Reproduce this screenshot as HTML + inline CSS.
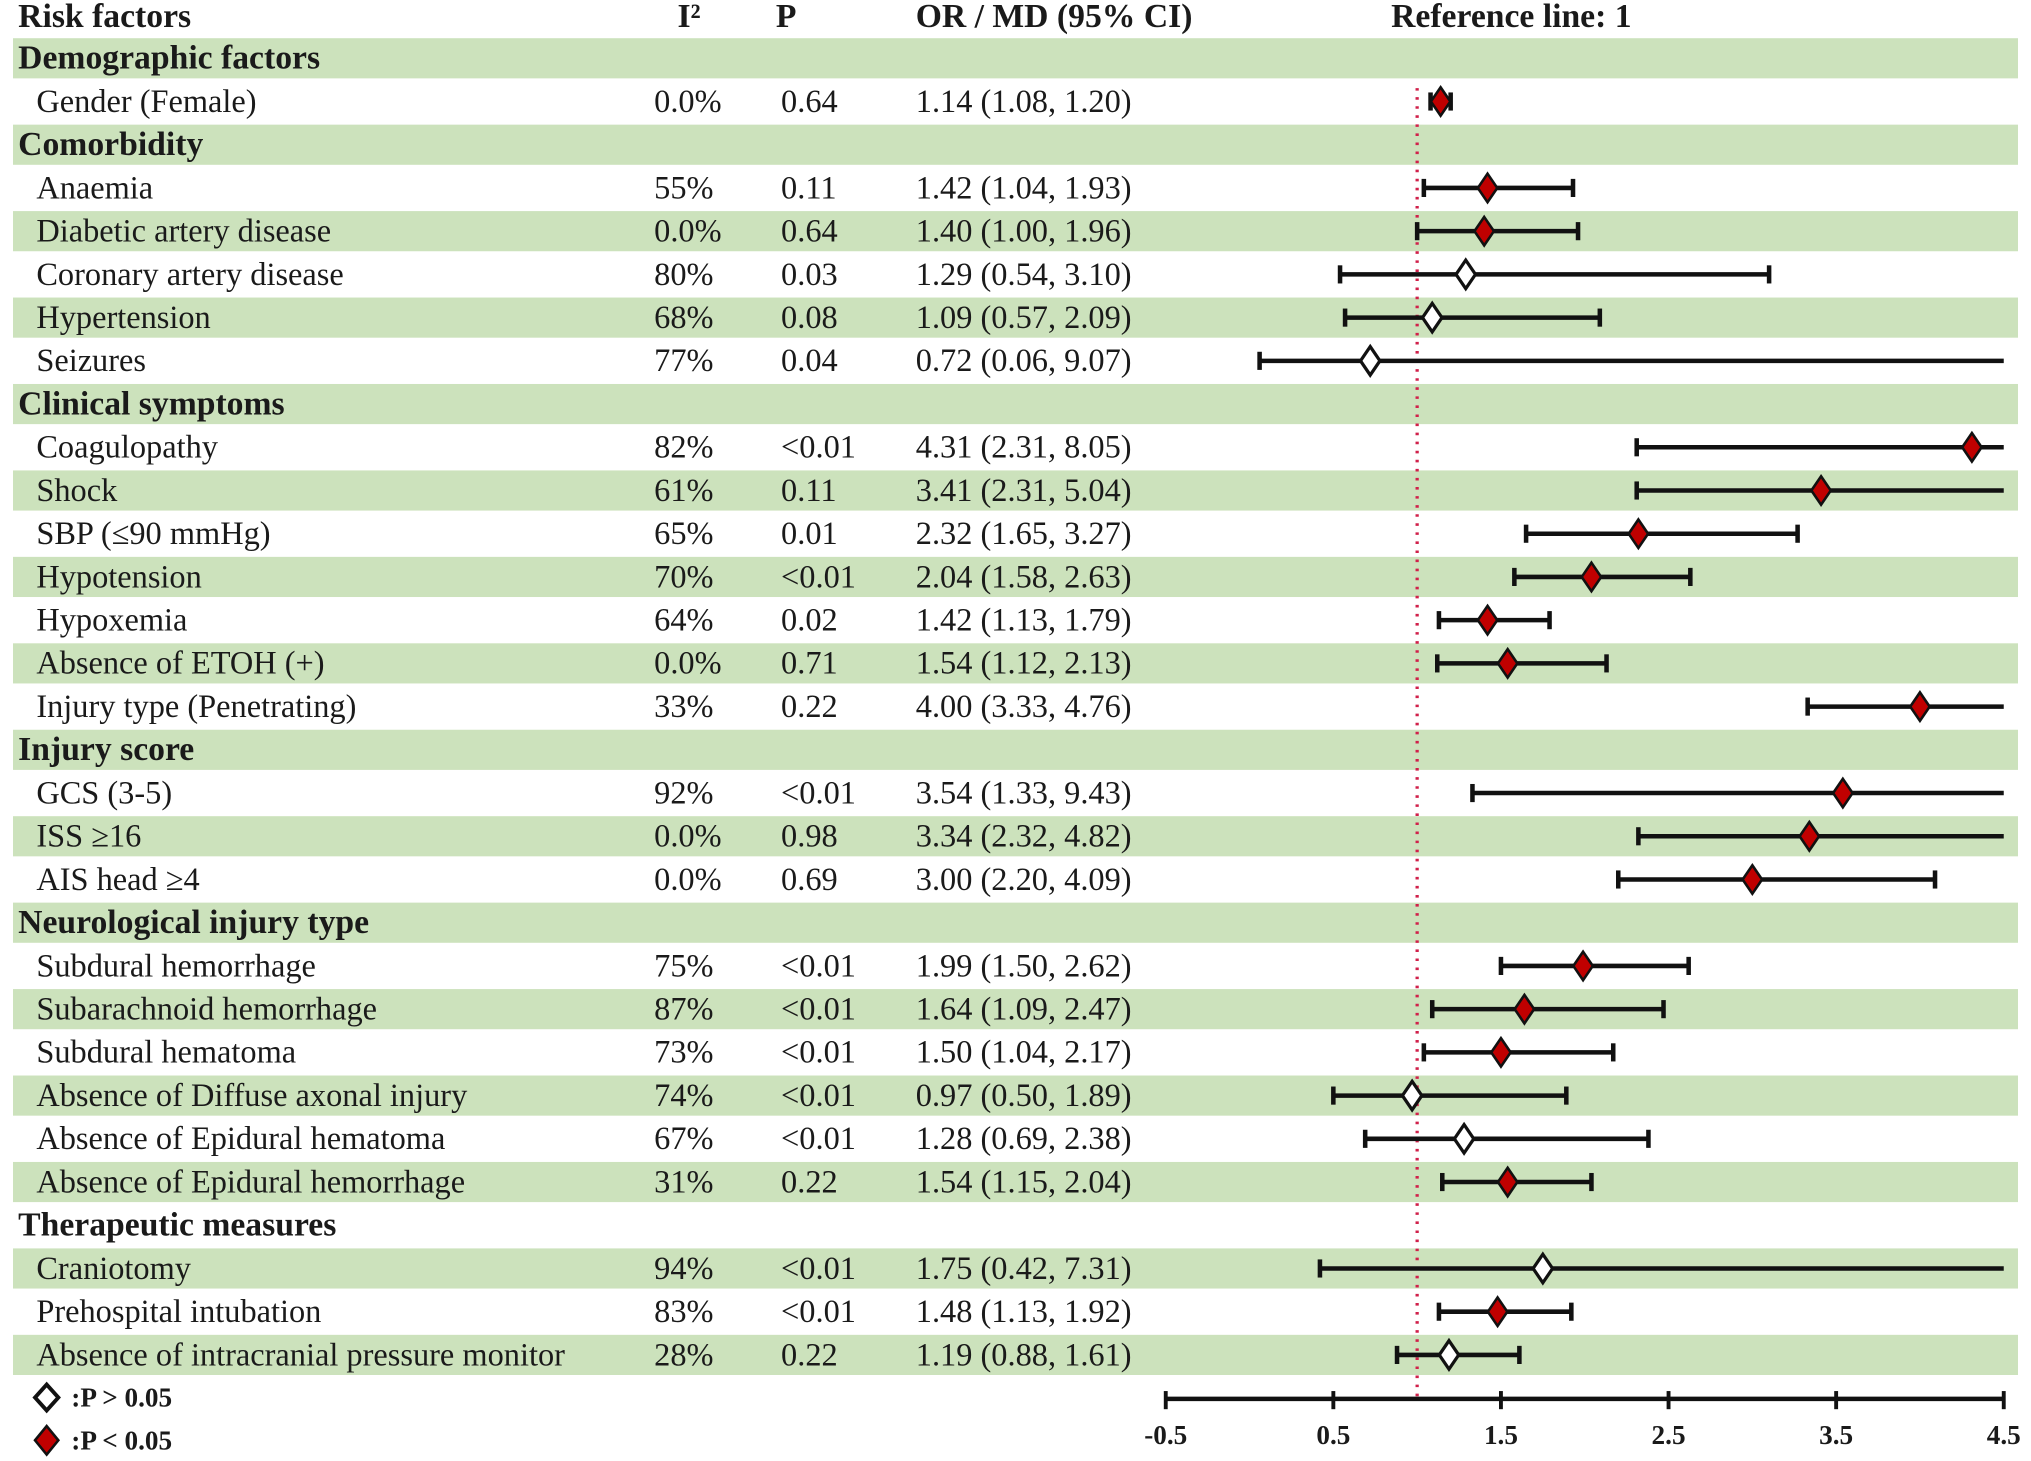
<!DOCTYPE html>
<html><head><meta charset="utf-8"><style>
html,body{margin:0;padding:0;background:#fff;}
svg{display:block;}
text{font-family:"Liberation Serif","DejaVu Serif",serif;font-size:25px;fill:#1a1a1a;}
.b{font-weight:bold;font-size:26px;}
</style></head><body>
<svg id="chart" width="2031" height="1461" viewBox="0 0 1568 1128" xmlns="http://www.w3.org/2000/svg">
<g id="bands"></g>
<text class="b" x="14" y="21">Risk factors</text>
<text class="b" x="523" y="21">I²</text>
<text class="b" x="599" y="21">P</text>
<text class="b" x="707" y="21">OR / MD (95% CI)</text>
<text class="b" x="1074" y="21">Reference line: 1</text>
<g id="texts"></g>
<g id="refline"></g>
<g id="marks"></g>
<g id="axis"></g>
<g>
<polygon points="36,1069 45,1079 36,1089 27,1079" fill="#fff" stroke="#111" stroke-width="3"/>
<text class="b" x="55" y="1086" style="font-size:21px">:P &gt; 0.05</text>
<polygon points="36,1101 45,1112 36,1123 27,1112" fill="#c00000" stroke="#111" stroke-width="2"/>
<text class="b" x="55" y="1119" style="font-size:21px">:P &lt; 0.05</text>
</g>
</svg>
<script>
const labels=["Demographic factors","Gender (Female)","Comorbidity","Anaemia","Diabetic artery disease","Coronary artery disease","Hypertension","Seizures","Clinical symptoms","Coagulopathy","Shock","SBP (≤90 mmHg)","Hypotension","Hypoxemia","Absence of ETOH (+)","Injury type (Penetrating)","Injury score","GCS (3-5)","ISS ≥16","AIS head ≥4","Neurological injury type","Subdural hemorrhage","Subarachnoid hemorrhage","Subdural hematoma","Absence of Diffuse axonal injury","Absence of Epidural hematoma","Absence of Epidural hemorrhage","Therapeutic measures","Craniotomy","Prehospital intubation","Absence of intracranial pressure monitor"];
const isHeader=[1,0,1,0,0,0,0,0,1,0,0,0,0,0,0,0,1,0,0,0,1,0,0,0,0,0,0,1,0,0,0];
const i2=["","0.0%","","55%","0.0%","80%","68%","77%","","82%","61%","65%","70%","64%","0.0%","33%","","92%","0.0%","0.0%","","75%","87%","73%","74%","67%","31%","","94%","83%","28%"];
const pv=["","0.64","","0.11","0.64","0.03","0.08","0.04","","<0.01","0.11","0.01","<0.01","0.02","0.71","0.22","","<0.01","0.98","0.69","","<0.01","<0.01","<0.01","<0.01","<0.01","0.22","","<0.01","<0.01","0.22"];
const est=[null,1.14,null,1.42,1.40,1.29,1.09,0.72,null,4.31,3.41,2.32,2.04,1.42,1.54,4.00,null,3.54,3.34,3.00,null,1.99,1.64,1.50,0.97,1.28,1.54,null,1.75,1.48,1.19];
const lo=[null,1.08,null,1.04,1.00,0.54,0.57,0.06,null,2.31,2.31,1.65,1.58,1.13,1.12,3.33,null,1.33,2.32,2.20,null,1.50,1.09,1.04,0.50,0.69,1.15,null,0.42,1.13,0.88];
const hi=[null,1.20,null,1.93,1.96,3.10,2.09,9.07,null,8.05,5.04,3.27,2.63,1.79,2.13,4.76,null,9.43,4.82,4.09,null,2.62,2.47,2.17,1.89,2.38,2.04,null,7.31,1.92,1.61];
const sig=[0,1,0,1,1,0,0,0,0,1,1,1,1,1,1,1,0,1,1,1,0,1,1,1,0,0,1,0,0,1,0];
const ticks=[-0.5,0.5,1.5,2.5,3.5,4.5];
const refValue=1;
const NS="http://www.w3.org/2000/svg";
const X0=-0.5,X1=4.5,PX0=900,PX1=1547;
function xs(v){return PX0+(Math.max(X0,Math.min(X1,v))-X0)/(X1-X0)*(PX1-PX0);}
function ys(i){return 45+i*33.37;}
function mk(tag,attrs,parent){const e=document.createElementNS(NS,tag);for(const k in attrs)e.setAttribute(k,attrs[k]);parent.appendChild(e);return e;}
const bands=document.getElementById('bands'),texts=document.getElementById('texts'),marks=document.getElementById('marks'),axis=document.getElementById('axis'),ref=document.getElementById('refline');
labels.forEach((lab,i)=>{
  const y=ys(i);
  if(i%2===0){const r=mk('rect',{x:10,y:y-15.5,width:1548,height:31,fill:'#cce2bc'},bands);
    
    }
  const t=mk('text',{x:isHeader[i]?14:28,y:y+8,class:isHeader[i]?'b':''},texts);t.textContent=lab;
  
  
  if(!isHeader[i]){
    const a=mk('text',{x:505,y:y+8},texts);a.textContent=i2[i];
    
    
    const b=mk('text',{x:603,y:y+8},texts);b.textContent=pv[i];
    
    
    const c=mk('text',{x:707,y:y+8},texts);c.textContent=est[i].toFixed(2)+' ('+lo[i].toFixed(2)+', '+hi[i].toFixed(2)+')';
    
    
    const g=mk('g',{},marks);
    
    
    const xl=xs(lo[i]),xh=xs(hi[i]),xe=xs(est[i]);
    mk('line',{x1:xl,x2:xh,y1:y,y2:y,stroke:'#111','stroke-width':3.5},g);
    if(lo[i]>=X0)mk('line',{x1:xl,x2:xl,y1:y-7,y2:y+7,stroke:'#111','stroke-width':3.5},g);
    if(hi[i]<=X1)mk('line',{x1:xh,x2:xh,y1:y-7,y2:y+7,stroke:'#111','stroke-width':3.5},g);
    mk('polygon',{points:`${xe},${y-11} ${xe+7.5},${y} ${xe},${y+11} ${xe-7.5},${y}`,fill:sig[i]?'#c00000':'#fff',stroke:'#111','stroke-width':sig[i]?2:2.5},g);
  }
});
const rl=mk('line',{x1:xs(refValue),x2:xs(refValue),y1:68,y2:1080,stroke:'#d0204a','stroke-width':2.5,'stroke-dasharray':'2 5'},ref);


const al=mk('line',{x1:PX0,x2:PX1,y1:1080,y2:1080,stroke:'#111','stroke-width':3.5},axis);


ticks.forEach(v=>{
  const x=xs(v);
  mk('line',{x1:x,x2:x,y1:1074,y2:1088,stroke:'#111','stroke-width':3},axis);
  const t=mk('text',{x:x,y:1115,'text-anchor':'middle',class:'b',style:'font-size:21px'},axis);t.textContent=v.toFixed(1);
  
  
});
</script>
</body></html>
